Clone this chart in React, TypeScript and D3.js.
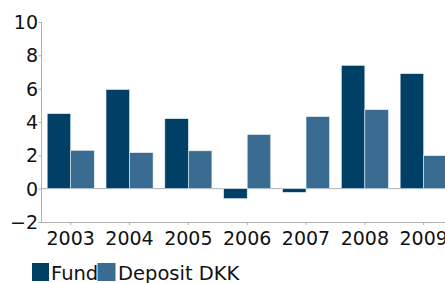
import React, { useEffect, useRef } from 'react';
import * as d3 from 'd3';

const years = ['2003', '2004', '2005', '2006', '2007', '2008', '2009'];
const fund = [4.5, 5.95, 4.2, -0.6, -0.22, 7.4, 6.9];
const deposit = [2.3, 2.16, 2.27, 3.25, 4.32, 4.74, 1.98];
const seriesNames = ['Fund', 'Deposit DKK'];
const seriesColors = ['#003f66', '#3a6b91'];
const yTicks = [-2, 0, 2, 4, 6, 8, 10];

export default function App() {
  const svgRef = useRef<SVGSVGElement | null>(null);

  useEffect(() => {
    const svg = d3.select(svgRef.current);
    svg.selectAll('*').remove();
    const font = 'DejaVu Sans, sans-serif';

    const y = d3.scaleLinear().domain([-2, 10]).range([222, 22]);
    const x = d3
      .scaleBand()
      .domain(years)
      .range([41.3, 453.1])
      .paddingInner(0.2)
      .paddingOuter(0.1);
    const xs = d3.scaleBand().domain(seriesNames).range([0, x.bandwidth()]);

    const axisColor = '#b0b0b0';

    // zero line and bottom axis
    svg.append('line')
      .attr('x1', 41).attr('x2', 445)
      .attr('y1', y(0)).attr('y2', y(0))
      .attr('stroke', axisColor);
    svg.append('line')
      .attr('x1', 41).attr('x2', 445)
      .attr('y1', y(-2) + 0.5).attr('y2', y(-2) + 0.5)
      .attr('stroke', axisColor);
    svg.append('line')
      .attr('x1', 41.5).attr('x2', 41.5)
      .attr('y1', y(10)).attr('y2', y(-2) + 1)
      .attr('stroke', axisColor);

    // y ticks
    const yt = svg.append('g');
    yTicks.forEach((t) => {
      yt.append('line')
        .attr('x1', 38.5).attr('x2', 41.5)
        .attr('y1', y(t) + 0.5).attr('y2', y(t) + 0.5)
        .attr('stroke', axisColor);
      yt.append('text')
        .attr('x', 38)
        .attr('y', y(t) + 7)
        .attr('text-anchor', 'end')
        .attr('font-family', font)
        .attr('font-size', 19)
        .attr('fill', '#111')
        .text(t < 0 ? '\u2212' + Math.abs(t) : String(t));
    });

    // x ticks
    years.forEach((yr) => {
      const cx = (x(yr) || 0) + x.bandwidth() / 2;
      svg.append('line')
        .attr('x1', cx).attr('x2', cx)
        .attr('y1', y(-2)).attr('y2', y(-2) + 3)
        .attr('stroke', axisColor);
      svg.append('text')
        .attr('x', cx)
        .attr('y', 245)
        .attr('text-anchor', 'middle')
        .attr('font-family', font)
        .attr('font-size', 19)
        .attr('fill', '#111')
        .text(yr);
    });

    // bars
    const values = [fund, deposit];
    seriesNames.forEach((name, si) => {
      svg.append('g')
        .selectAll('rect')
        .data(years)
        .enter()
        .append('rect')
        .attr('x', (d) => (x(d) || 0) + (xs(name) || 0))
        .attr('width', xs.bandwidth())
        .attr('y', (d, i) => y(Math.max(0, values[si][i])))
        .attr('height', (d, i) => Math.abs(y(values[si][i]) - y(0)))
        .attr('fill', seriesColors[si])
        .attr('stroke', '#e6eef5')
        .attr('stroke-width', 0.6);
    });

    // legend
    const leg = svg.append('g');
    leg.append('rect').attr('x', 32).attr('y', 263).attr('width', 17).attr('height', 18).attr('fill', seriesColors[0]);
    leg.append('text').attr('x', 51).attr('y', 280).attr('font-family', font).attr('font-size', 19.5).attr('fill', '#111').text(seriesNames[0]);
    leg.append('rect').attr('x', 97.5).attr('y', 263).attr('width', 18).attr('height', 18).attr('fill', seriesColors[1]);
    leg.append('text').attr('x', 118).attr('y', 280).attr('font-family', font).attr('font-size', 19.5).attr('fill', '#111').text(seriesNames[1]);
  }, []);

  return (
    <svg
      ref={svgRef}
      width={445}
      height={283}
      style={{ position: 'absolute', left: 0, top: 0, background: '#fff' }}
    />
  );
}
